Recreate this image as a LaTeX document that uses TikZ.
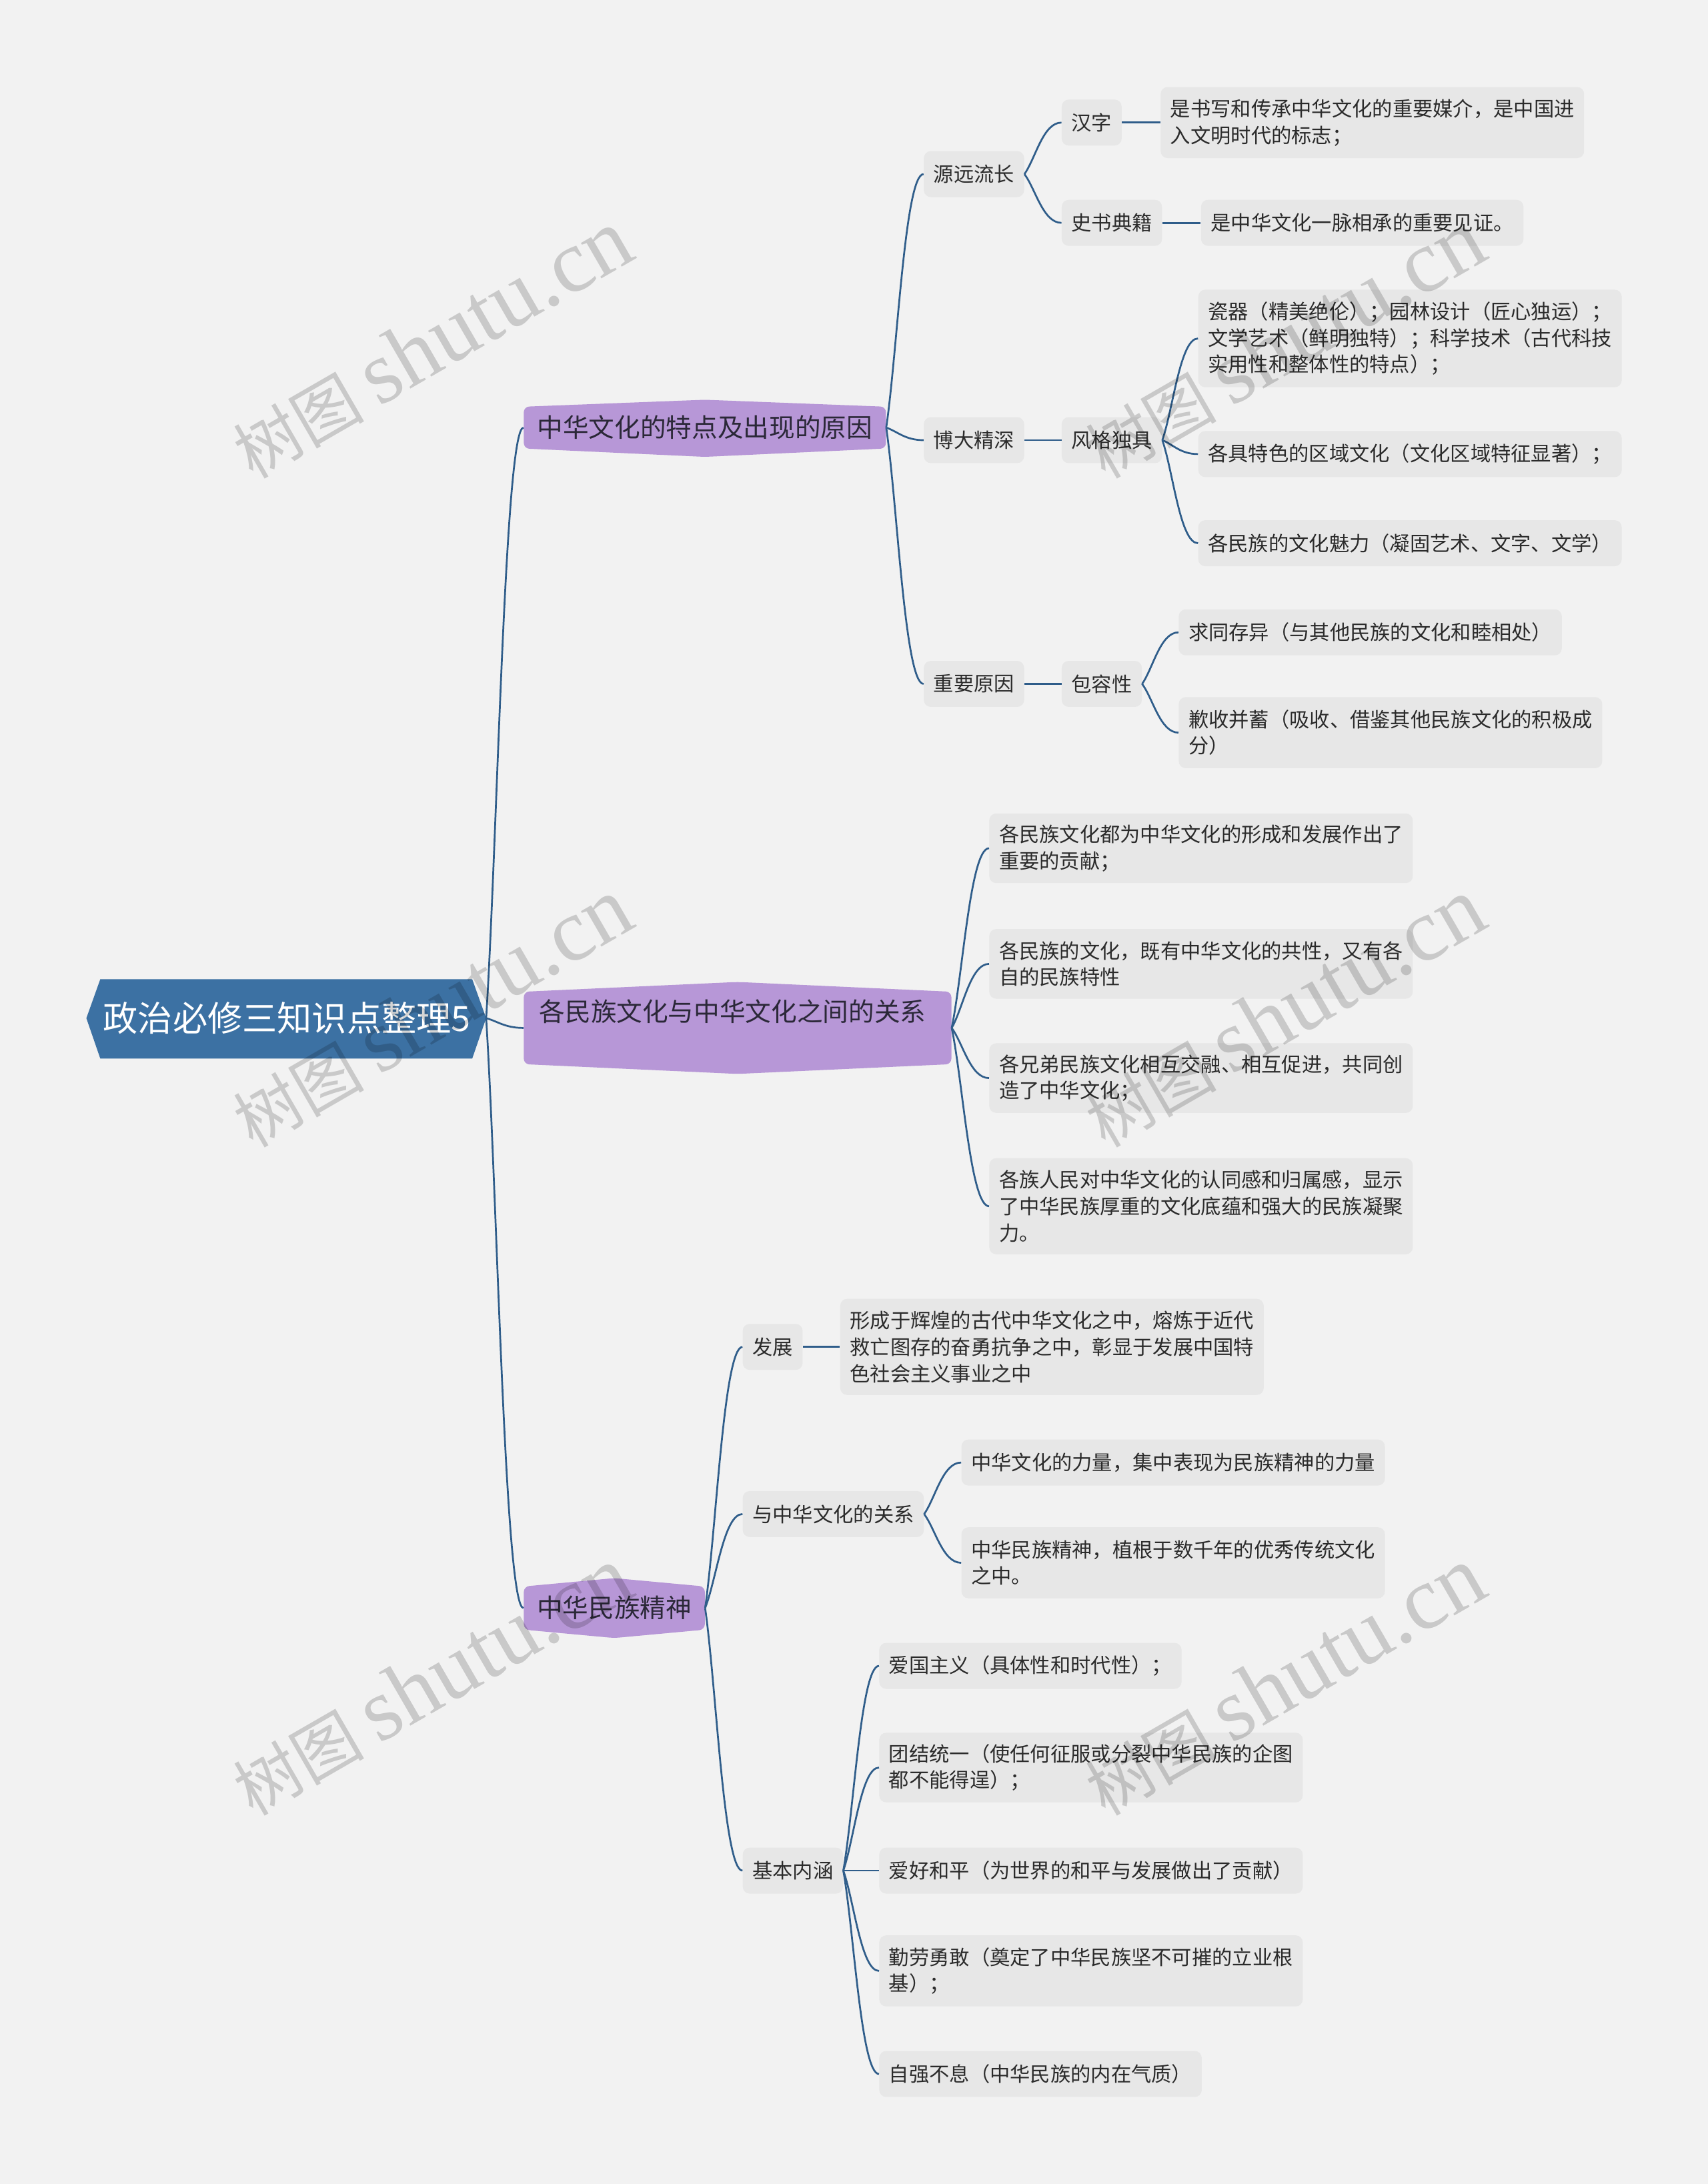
\documentclass[tikz,border=0pt]{standalone}
\usepackage{fontspec}
\setmainfont{Noto Sans CJK SC}
\newfontfamily\wmserif{Liberation Serif}
\usetikzlibrary{calc}
\definecolor{bgc}{HTML}{F2F2F2}
\definecolor{leafc}{HTML}{E7E7E7}
\definecolor{rootc}{HTML}{3C71A3}
\definecolor{purc}{HTML}{B797D7}
\definecolor{linec}{HTML}{2F5D8A}
\definecolor{txtc}{HTML}{2B2B2B}
\definecolor{ptxt}{HTML}{2B2838}
\newcommand\lnk[2]{\draw[conn] (#1) .. controls ($(#1)!0.3!(#2)$) and ($(#2)!0.5!(#1 |- #2)$) .. (#2);}
\begin{document}
\begin{tikzpicture}[x=1pt,y=-1pt,
  box/.style={fill=leafc, rounded corners=5pt, inner xsep=7pt, inner ysep=0pt, minimum height=#1, anchor=west, align=left, font=\fontsize{14.5}{19}\selectfont, text=txtc},
  box/.default=33,
  conn/.style={draw=linec, line width=1.3pt},
  lone/.style={inner sep=0pt, font=\fontsize{18.5}{24}\selectfont, text=ptxt},
  wm/.style={text=black, text opacity=0.17, rotate=30, inner sep=0pt}
]
\useasboundingbox (0,0) rectangle (1226,1568);
\fill[bgc] (0,0) rectangle (1226,1568);

% root
\fill[rootc] (62,731) -- (72,703) -- (339,703) -- (349,731) -- (339,760) -- (72,760) -- cycle;
\node[text=white, font=\fontsize{25}{30}\selectfont, inner sep=0pt] (root) at (206,731) {政治必修三知识点整理5};
\coordinate (rootR) at (349,731);

% level 1 shapes
\fill[purc, rounded corners=4pt] (376,307) -- (376,292) -- (506,287) -- (636,292) -- (636,322) -- (506,328) -- (376,322) -- cycle;
\node[lone, minimum width=260, minimum height=30] (l1a) at (506,307) {中华文化的特点及出现的原因};

\fill[purc, rounded corners=4pt] (376,738) -- (376,712) -- (529.5,705) -- (683,712) -- (683,764) -- (529.5,771) -- (376,764) -- cycle;
\node[inner sep=0pt, minimum width=307, minimum height=52] (l1b) at (529.5,738) {};
\node[lone, anchor=west] (l1bt) at (387,726) {各民族文化与中华文化之间的关系};

\fill[purc, rounded corners=4pt] (376,1155) -- (376,1139) -- (441,1133) -- (506,1139) -- (506,1170) -- (441,1176) -- (376,1170) -- cycle;
\node[lone, minimum width=130, minimum height=31] (l1c) at (441,1154.5) {中华民族精神};

% branch a
\node[box] (s1) at (663,125) {源远流长};
\node[box] (s2) at (663,316) {博大精深};
\node[box] (s3) at (663,491) {重要原因};
\node[box] (t1) at (762,88) {汉字};
\node[box] (t2) at (762,160) {史书典籍};
\node[box] (t3) at (762,316) {风格独具};
\node[box] (t4) at (762,491) {包容性};
\node[box=51] (u1) at (833,88) {是书写和传承中华文化的重要媒介，是中国进\\入文明时代的标志；};
\node[box] (u2) at (862,160) {是中华文化一脉相承的重要见证。};
\node[box=70] (u3) at (860,243) {瓷器（精美绝伦）；园林设计（匠心独运）；\\文学艺术（鲜明独特）；科学技术（古代科技\\实用性和整体性的特点）；};
\node[box] (u4) at (860,326) {各具特色的区域文化（文化区域特征显著）；};
\node[box] (u5) at (860,390) {各民族的文化魅力（凝固艺术、文字、文学）};
\node[box] (u6) at (846,454) {求同存异（与其他民族的文化和睦相处）};
\node[box=51] (u7) at (846,526) {歉收并蓄（吸收、借鉴其他民族文化的积极成\\分）};

% branch b
\node[box=50] (v1) at (710,609) {各民族文化都为中华文化的形成和发展作出了\\重要的贡献；};
\node[box=50] (v2) at (710,692) {各民族的文化，既有中华文化的共性，又有各\\自的民族特性};
\node[box=50] (v3) at (710,774) {各兄弟民族文化相互交融、相互促进，共同创\\造了中华文化；};
\node[box=69] (v4) at (710,866) {各族人民对中华文化的认同感和归属感，显示\\了中华民族厚重的文化底蕴和强大的民族凝聚\\力。};

% branch c
\node[box] (w1) at (533,967) {发展};
\node[box] (w2) at (533,1087) {与中华文化的关系};
\node[box] (w3) at (533,1343) {基本内涵};
\node[box=69] (x1) at (603,967) {形成于辉煌的古代中华文化之中，熔炼于近代\\救亡图存的奋勇抗争之中，彰显于发展中国特\\色社会主义事业之中};
\node[box] (x2) at (690,1050) {中华文化的力量，集中表现为民族精神的力量};
\node[box=51] (x3) at (690,1122) {中华民族精神，植根于数千年的优秀传统文化\\之中。};
\node[box] (y1) at (631,1196) {爱国主义（具体性和时代性）；};
\node[box=50] (y2) at (631,1269) {团结统一（使任何征服或分裂中华民族的企图\\都不能得逞）；};
\node[box] (y3) at (631,1343) {爱好和平（为世界的和平与发展做出了贡献）};
\node[box=51] (y4) at (631,1415) {勤劳勇敢（奠定了中华民族坚不可摧的立业根\\基）；};
\node[box] (y5) at (631,1489) {自强不息（中华民族的内在气质）};

% connectors
\lnk{rootR}{l1a.west}
\lnk{rootR}{l1b.west}
\lnk{rootR}{l1c.west}
\lnk{l1a.east}{s1.west}
\lnk{l1a.east}{s2.west}
\lnk{l1a.east}{s3.west}
\lnk{s1.east}{t1.west}
\lnk{s1.east}{t2.west}
\lnk{s2.east}{t3.west}
\lnk{s3.east}{t4.west}
\lnk{t1.east}{u1.west}
\lnk{t2.east}{u2.west}
\lnk{t3.east}{u3.west}
\lnk{t3.east}{u4.west}
\lnk{t3.east}{u5.west}
\lnk{t4.east}{u6.west}
\lnk{t4.east}{u7.west}
\lnk{l1b.east}{v1.west}
\lnk{l1b.east}{v2.west}
\lnk{l1b.east}{v3.west}
\lnk{l1b.east}{v4.west}
\lnk{l1c.east}{w1.west}
\lnk{l1c.east}{w2.west}
\lnk{l1c.east}{w3.west}
\lnk{w1.east}{x1.west}
\lnk{w2.east}{x2.west}
\lnk{w2.east}{x3.west}
\lnk{w3.east}{y1.west}
\lnk{w3.east}{y2.west}
\lnk{w3.east}{y3.west}
\lnk{w3.east}{y4.west}
\lnk{w3.east}{y5.west}

% watermarks
\foreach \wx/\wy [count=\i] in {310/247, 922/247, 310/727, 922/727, 310/1207, 922/1207}{
  \node[wm] (wm\i) at (\wx,\wy) {\fontsize{47}{52}\selectfont 树图\ {\wmserif\fontsize{64}{66}\selectfont shutu.cn}};
}
\end{tikzpicture}
\end{document}
